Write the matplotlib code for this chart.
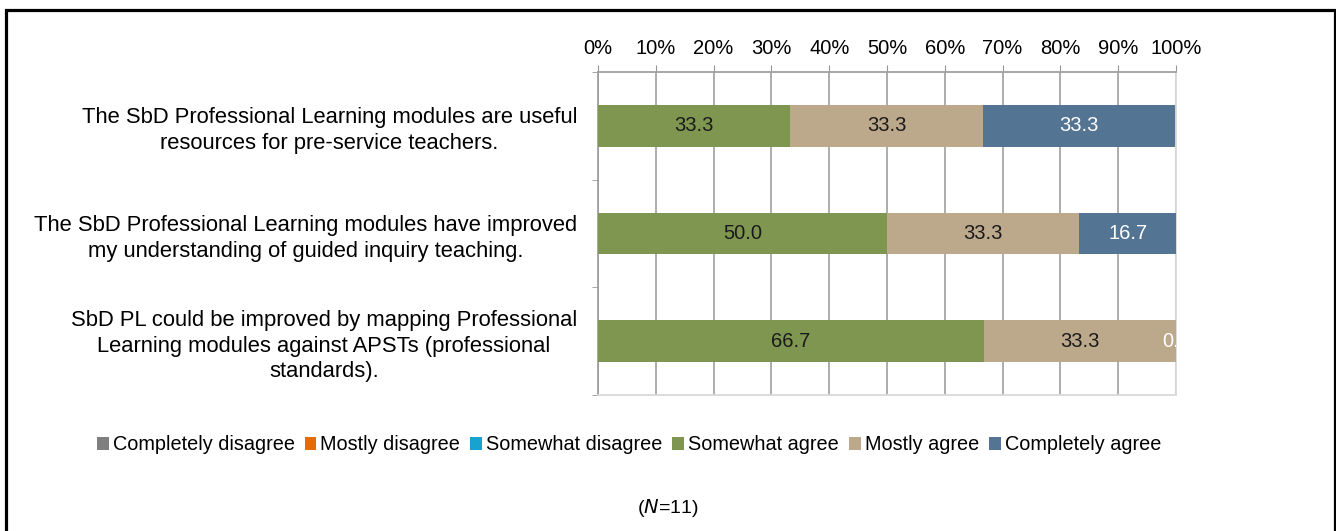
import matplotlib
matplotlib.use("Agg")
import matplotlib.pyplot as plt
from matplotlib.patches import Rectangle, Patch
import numpy as np

# survey statements (top to bottom)
statements = [
    "The SbD Professional Learning modules are useful\nresources for pre-service teachers.",
    "The SbD Professional Learning modules have improved\nmy understanding of guided inquiry teaching.",
    "SbD PL could be improved by mapping Professional\nLearning modules against APSTs (professional\nstandards).",
]

series_names = ["Completely disagree", "Mostly disagree", "Somewhat disagree",
                "Somewhat agree", "Mostly agree", "Completely agree"]
completely_disagree = [0.0, 0.0, 0.0]
mostly_disagree = [0.0, 0.0, 0.0]
somewhat_disagree = [0.0, 0.0, 0.0]
somewhat_agree = [33.3, 50.0, 66.7]
mostly_agree = [33.3, 33.3, 33.3]
completely_agree = [33.3, 16.7, 0.0]

colors = ["#7f7f7f", "#e36c0a", "#17a2cf", "#7f9650", "#bca98b", "#547494"]
label_colors = [None, None, None, "#1a1a1a", "#1a1a1a", "white"]

tick_values = np.arange(0, 101, 10)
tick_labels = [f"{v}%" for v in tick_values]

plt.rcParams["font.family"] = ["Liberation Sans", "DejaVu Sans"]

fig = plt.figure(figsize=(13.36, 5.31), dpi=100)
ax = fig.add_axes([598 / 1336, 1 - 395 / 531, 578 / 1336, 323 / 531])

values = [completely_disagree, mostly_disagree, somewhat_disagree,
          somewhat_agree, mostly_agree, completely_agree]
y = np.arange(len(statements))
left = np.zeros(len(statements))
for name, vals, col, lc in zip(series_names, values, colors, label_colors):
    vals = np.array(vals)
    ax.barh(y, vals, left=left, height=0.39, color=col, zorder=3)
    if lc is not None:
        for yi, (l, v) in enumerate(zip(left, vals)):
            if lc == "white" or v > 0:
                ax.text(l + v / 2, yi, f"{v:.1f}", ha="center", va="center",
                        color=lc, fontsize=14.5, zorder=4, clip_on=True)
    left = left + vals

ax.set_xlim(0, 100)
ax.set_ylim(len(statements) - 0.5, -0.5)
ax.xaxis.tick_top()
ax.set_xticks(tick_values)
ax.set_xticklabels(tick_labels, fontsize=14.5)
ax.tick_params(axis="x", length=5, color="#969696", pad=5)
ax.grid(axis="x", color="#a6a6a6", linewidth=1.3, zorder=0)

ax.set_yticks(y)
ax.set_yticklabels(statements, fontsize=15.8, multialignment="center", linespacing=1.3)
ax.tick_params(axis="y", which="major", length=0, pad=15)
ax.set_yticks(np.arange(-0.5, len(statements)), minor=True)
ax.tick_params(axis="y", which="minor", length=4, color="#969696")

for side in ["top", "left"]:
    ax.spines[side].set_color("#a0a0a0")
    ax.spines[side].set_linewidth(1.3)
for side in ["bottom", "right"]:
    ax.spines[side].set_color("#d9d9d9")
    ax.spines[side].set_linewidth(1.3)

handles = [Patch(facecolor=c, edgecolor="none") for c in colors]
fig.legend(handles, series_names, loc="center", bbox_to_anchor=(629 / 1336, 1 - 445 / 531),
           ncol=6, frameon=False, fontsize=14.3, handlelength=0.6, handleheight=0.6,
           handletextpad=0.2, columnspacing=0.5)

fig.text(668 / 1336, 1 - 508 / 531, "($\\it{N}$=11)", ha="center", va="center", fontsize=14)

fig.patches.append(Rectangle((6 / 1336, -0.1), 1329 / 1336, 1.1 - 10 / 531,
                             transform=fig.transFigure, fill=False,
                             edgecolor="black", linewidth=2.3))

fig.savefig("out.png", dpi=100)
